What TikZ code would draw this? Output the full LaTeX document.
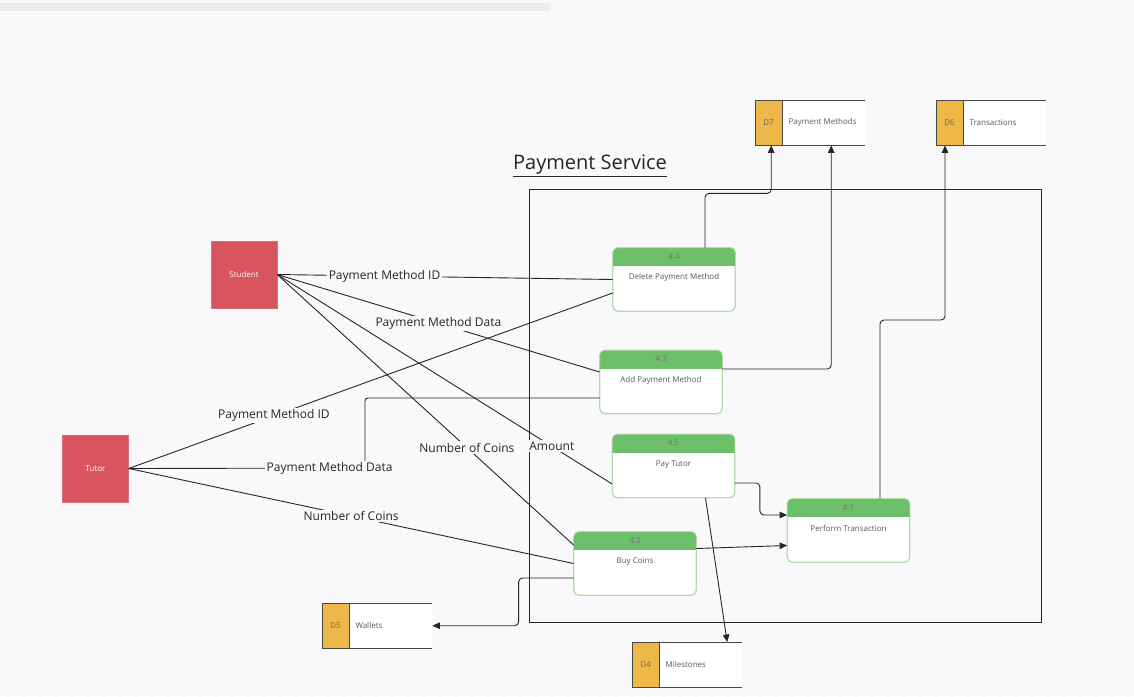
\documentclass[tikz,border=0pt]{standalone}
\usepackage{fontspec}
\setmainfont{Open Sans}
\usetikzlibrary{arrows.meta,calc}
\definecolor{bg}{HTML}{F9F9FC}
\definecolor{dotc}{HTML}{E4E4EC}
\definecolor{entred}{HTML}{D8545F}
\definecolor{hdr}{HTML}{6DC069}
\definecolor{procline}{HTML}{B2DCAC}
\definecolor{storey}{HTML}{EDB848}
\definecolor{ink}{HTML}{262626}
\newcommand\procbox[5]{%
  \node[proc] (#1) at (#2,#3) {};
  \begin{scope}
    \clip ([yshift=5pt]#1.north west) rectangle ([yshift=-18pt]#1.north east);
    \fill[hdr, rounded corners=5pt] (#1.south west) rectangle (#1.north east);
  \end{scope}
  \draw[procline, line width=0.8pt, rounded corners=5pt] (#1.south west) rectangle (#1.north east);
  \node[font=\fontsize{8}{9}\selectfont, text=black!55] (#1n) at ([yshift=-9pt]#1.north) {#4};
  \node[font=\fontsize{8}{9}\selectfont, text=black!65] (#1t) at ([yshift=-30pt]#1.north) {#5};
}
\newcommand\storebox[5]{%
  \node[minimum width=110pt, minimum height=45pt, inner sep=0pt, anchor=north west, fill=white] (#1) at (#2,#3) {};
  \fill[storey] (#1.north west) rectangle ([xshift=27pt]#1.south west);
  \draw[ink!85, line width=0.8pt] ([xshift=27pt]#1.north west) -- ([xshift=27pt]#1.south west)
     (#1.north west) -- (#1.north east) (#1.south west) -- (#1.south east) (#1.north west) -- (#1.south west);
  \node[font=\fontsize{8}{9}\selectfont, text=black!60] (#1n) at ([xshift=13.5pt]#1.west) {#4};
  \node[anchor=west, font=\fontsize{8}{9}\selectfont, text=black!65] (#1t) at ([xshift=30pt]#1.west) {#5};
}
\begin{document}
\begin{tikzpicture}[x=1pt,y=-1pt,
  ent/.style={fill=entred, draw=entred!85!white, minimum width=66pt, minimum height=67pt, inner sep=0pt, text=white, font=\fontsize{8}{9}\selectfont},
  proc/.style={draw=procline, line width=0.8pt, rounded corners=5pt, minimum width=122pt, minimum height=63pt, inner sep=0pt, fill=white},
  lbl/.style={fill=bg, inner sep=1.5pt, font=\fontsize{12}{14}\selectfont, text=ink},
  flow/.style={draw=ink, line width=0.9pt},
  arr/.style={flow, -{Triangle[length=7.5pt,width=6.5pt]}, rounded corners=4pt},
]
\useasboundingbox (0,0) rectangle (1134,696);
\fill[bg] (0,0) rectangle (1134,696);
\foreach \x in {8,24,...,1134} {\foreach \y in {8,24,...,696} {\fill[dotc] (\x,\y) circle (0.7pt);}}
\fill[black!7] (0,3) rectangle (550,11);

% frame and title
\node[draw=ink, line width=0.9pt, minimum width=512pt, minimum height=433pt, anchor=north west, inner sep=0pt] (frame) at (529,189) {};
\node[font=\fontsize{20}{24}\selectfont, text=ink] (title) at (590,166) {\underline{Payment Service}};

% entities
\node[ent] (student) at (244,274.5) {Student};
\node[ent] (tutor) at (95.5,468.5) {Tutor};

% processes
\procbox{p44}{674}{279.5}{4.4}{Delete Payment Method}
\procbox{p43}{661}{382}{4.3}{Add Payment Method}
\procbox{p45}{673.5}{466}{4.5}{Pay Tutor}
\procbox{p42}{635}{563.5}{4.2}{Buy Coins}
\procbox{p41}{848.5}{530.5}{4.1}{Perform Transaction}

% stores
\storebox{d7}{755}{100}{D7}{Payment Methods}
\storebox{d6}{936}{100}{D6}{Transactions}
\storebox{d5}{322}{603}{D5}{Wallets}
\storebox{d4}{632}{642}{D4}{Milestones}

% student flows
\draw[flow] (student.east) -- node[lbl, pos=0.32]{Payment Method ID} (p44.west);
\draw[flow] (student.east) -- node[lbl, pos=0.5]{Payment Method Data} ([yshift=10pt]p43.west);
\draw[flow] (student.east) -- node[lbl, pos=0.82]{Amount} ([yshift=-18pt]p45.west);
\draw[flow] (student.east) -- node[lbl, pos=0.64]{Number of Coins} ([yshift=18.5pt]p42.west);

% tutor flows
\coordinate (t6a) at (365,468);
\coordinate (t6b) at (365,398);
\draw[flow] (tutor.east) -- node[lbl, pos=0.30]{Payment Method ID} ([yshift=-13.5pt]p44.west);
\draw[flow, rounded corners=3pt] (tutor.east) -- (t6a) -- (t6b) -- (t6b -| p43.west);
\path (tutor.east) -- node[lbl, pos=0.85]{Payment Method Data} (t6a);
\draw[flow] (tutor.east) -- node[lbl, pos=0.5]{Number of Coins} (p42.west);

% process to store / process flows
\draw[arr] ([xshift=31pt]p44.north) |- ([xshift=-39pt,yshift=-48pt]d7.south) -- ([xshift=-39pt]d7.south);
\draw[arr] ([yshift=13pt]p43.east) -| ([xshift=21pt]d7.south);
\coordinate (c14) at (945,320);
\draw[arr] ([xshift=31.5pt]p41.north) |- (c14) -- (c14 |- d6.south);
\draw[arr] ([yshift=-17pt]p45.east) -- ++(25,0) |- ([yshift=15.5pt]p41.west);
\draw[arr] ([yshift=15pt]p42.east) -- ([yshift=-15pt]p41.west);
\draw[arr] ([xshift=32pt]p45.south) -- ([xshift=40pt]d4.north);
\draw[arr] ([yshift=-14.5pt]p42.west) -- ++(-55,0) |- (d5.east);
\end{tikzpicture}
\end{document}
